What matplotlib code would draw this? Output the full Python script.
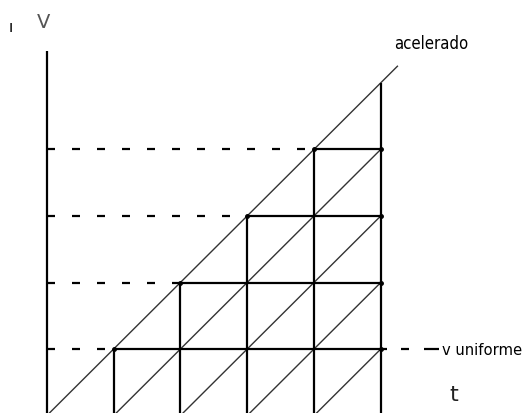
import matplotlib
matplotlib.use("Agg")
from matplotlib import pyplot as plt

# diagram data: time steps and velocity levels
times = [0, 1, 2, 3, 4, 5]
levels = [1, 2, 3, 4]
accel_t = [0, 5.25]
accel_v = [0, 5.25]
axis_top = 5.48
labels = {"acelerado": (5.2, 5.6), "v uniforme": (5.92, 1.0), "t": (6.1, 0.32), "V": (-0.05, 5.92)}

plt.rcParams['lines.scale_dashes'] = False
fig = plt.figure(figsize=(5.25, 4.14), dpi=100)
ax = fig.add_axes([0, 0, 1, 1])
ax.set_xlim(-0.70, 7.16)
ax.set_ylim(0.04, 6.26)
ax.axis("off")

px = 0.72  # points per pixel
dash = (8 * px, 17 * px)
k = "black"

# vertical axis
ax.plot([0, 0], [0, axis_top], color=k, lw=1.6, solid_capstyle="butt")

# accelerated motion
ax.plot(accel_t, accel_v, color="#333333", lw=1.0)

# uniform motion diagonals, verticals and horizontal levels
for s in levels:
    ax.plot([s, times[-1]], [0, times[-1] - s], color="#333333", lw=1.0)
for t in times[1:]:
    ax.plot([t, t], [0, t], color=k, lw=1.6, solid_capstyle="butt")
for v in levels:
    ax.plot([0, v], [v, v], color=k, lw=1.6, dashes=dash)
    end = times[-1] + (0.09 if v == 1 else 0)
    ax.plot([v, end], [v, v], color=k, lw=1.6, solid_capstyle="butt")
    ax.plot([v, times[-1]], [v, v], "o", color=k, ms=2.5)

# dashed continuation of uniform velocity
ax.plot([5.31, 5.88], [1, 1], color=k, lw=1.6,
        dashes=(8 * px, 15 * px, 15 * px, 30 * px))

fam = ['Liberation Sans Narrow', 'DejaVu Sans']
ax.text(*labels["acelerado"], "acelerado", fontsize=12, family=fam,
        stretch="condensed", va="center", ha="left")
ax.text(*labels["v uniforme"], "v uniforme", fontsize=11.8, family=fam,
        stretch="condensed", va="center", ha="left")
ax.text(*labels["t"], "t", fontsize=16, family=fam, va="center", ha="center",
        color="#222222")
ax.text(*labels["V"], "V", fontsize=14, family=fam, va="center", ha="center",
        color="#555555")
ax.text(-0.54, 5.84, "ı", fontsize=11, family=fam, va="center", ha="center")

fig.savefig("out.png", dpi=100)
